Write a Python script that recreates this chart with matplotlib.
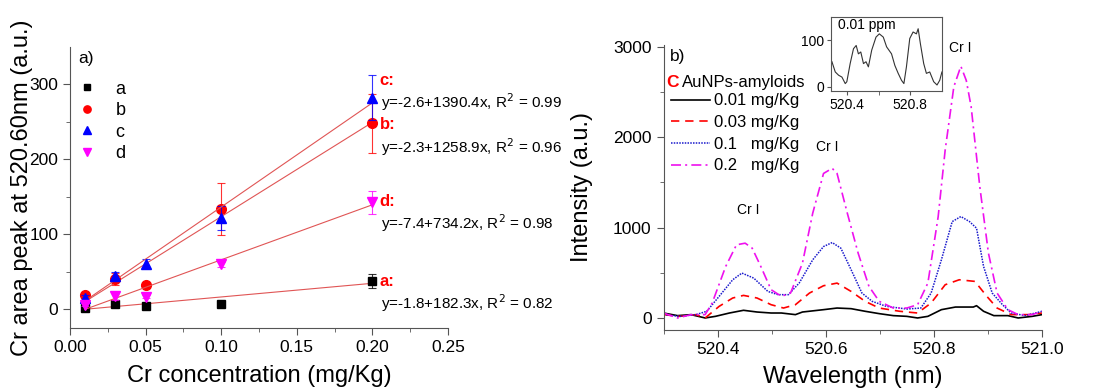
import numpy as np
import matplotlib
matplotlib.use("Agg")
import matplotlib.pyplot as plt
from matplotlib.lines import Line2D

plt.rcParams['font.family'] = ['Liberation Sans', 'DejaVu Sans']

# ---- panel a: calibration data ----
conc = [0.01, 0.03, 0.05, 0.10, 0.20]
area_a = [1.5, 7.5, 4.5, 6.7, 38]
err_a = [1, 2, 1, 1, 9]
area_b = [18.7, 40, 32, 134, 248]
err_b = [3, 8, 3, 35, 39]
area_c = [15.5, 45, 61, 122, 282]
err_c = [3, 5, 6, 16, 30]
area_d = [6, 18, 16.5, 60, 142.7]
err_d = [2, 5, 2, 3, 15]

# fit coefficients (intercept, slope, R^2)
fit_a = (-1.8, 182.3, 0.82)
fit_b = (-2.3, 1258.9, 0.96)
fit_c = (-2.6, 1390.4, 0.99)
fit_d = (-7.4, 734.2, 0.98)

# ---- panel b: spectra ----
wl_01 = [520.300, 520.326, 520.351, 520.377, 520.396, 520.422, 520.448, 520.473, 520.499,
         520.518, 520.544, 520.557, 520.596, 520.621, 520.647, 520.673, 520.699, 520.725,
         520.750, 520.770, 520.789, 520.814, 520.840, 520.873, 520.879, 520.892, 520.911,
         520.937, 520.956, 520.982, 521.000]
int_01 = [55, 26, 37, 0, 18, 55, 85, 66, 55, 55, 37, 66, 92, 110, 103, 74, 48, 26,
          18, 0, 18, 92, 121, 121, 136, 74, 26, 26, 0, 18, 37]

wl_03 = [520.300, 520.330, 520.360, 520.377, 520.403, 520.428, 520.448, 520.473, 520.499,
         520.522, 520.544, 520.570, 520.596, 520.621, 520.647, 520.673, 520.699, 520.737,
         520.770, 520.795, 520.821, 520.847, 520.876, 520.898, 520.917, 520.943, 520.976,
         521.000]
int_03 = [37, 18, 37, 0, 129, 221, 250, 221, 147, 110, 147, 276, 357, 386, 294, 184,
          110, 74, 55, 166, 368, 423, 405, 240, 110, 37, 37, 55]

wl_1 = [520.300, 520.330, 520.360, 520.380, 520.403, 520.428, 520.445, 520.467, 520.493,
        520.512, 520.531, 520.551, 520.576, 520.596, 520.612, 520.628, 520.647, 520.667,
        520.686, 520.712, 520.750, 520.776, 520.795, 520.814, 520.834, 520.850, 520.866,
        520.879, 520.892, 520.908, 520.927, 520.943, 520.969, 521.000]
int_1 = [37, 18, 37, 74, 240, 423, 497, 441, 294, 258, 258, 387, 644, 791, 835, 773,
         534, 276, 184, 129, 99, 110, 276, 644, 1067, 1123, 1067, 994, 570, 276, 147,
         55, 26, 74]

wl_2 = [520.300, 520.326, 520.351, 520.377, 520.390, 520.415, 520.435, 520.451, 520.464,
        520.480, 520.499, 520.518, 520.535, 520.557, 520.576, 520.596, 520.612, 520.621,
        520.640, 520.660, 520.680, 520.699, 520.725, 520.750, 520.770, 520.789, 520.808,
        520.821, 520.837, 520.850, 520.860, 520.869, 520.885, 520.901, 520.917, 520.937,
        520.956, 520.982, 521.000]
int_2 = [55, 0, 37, 37, 165, 570, 810, 828, 773, 570, 313, 240, 276, 607, 1160, 1600,
         1657, 1600, 1160, 718, 350, 184, 110, 110, 147, 387, 1120, 1860, 2560, 2787,
         2630, 2340, 1455, 718, 276, 92, 37, 37, 74]

# inset: 0.01 ppm trace
wl_in = [520.306, 520.327, 520.348, 520.369, 520.390, 520.400, 520.421, 520.442, 520.459,
         520.473, 520.488, 520.505, 520.521, 520.536, 520.557, 520.584, 520.605, 520.630,
         520.651, 520.682, 520.703, 520.724, 520.745, 520.760, 520.776, 520.797, 520.818,
         520.839, 520.850, 520.864, 520.885, 520.902, 520.923, 520.948, 520.969, 520.986,
         521.000]
int_in = [54, 32, 25, 21, 7, 11, 50, 82, 89, 71, 75, 50, 54, 43, 79, 107, 114, 107, 86,
          71, 46, 29, 14, 7, 43, 104, 118, 114, 125, 93, 50, 29, 32, 11, 4, 14, 32]

spine_col = '#555555'


def style_axes(ax, box=False):
    for s in ['left', 'bottom', 'top', 'right']:
        ax.spines[s].set_color(spine_col)
    if not box:
        ax.spines['top'].set_visible(False)
        ax.spines['right'].set_visible(False)
    ax.tick_params(which='both', direction='out', color=spine_col)
    ax.tick_params(which='major', length=5)
    ax.tick_params(which='minor', length=3)


fig = plt.figure(figsize=(11.04, 3.89), dpi=100)

# ---------------- panel a ----------------
axa = fig.add_axes([0.0634, 0.1568, 0.3424, 0.7224])
style_axes(axa)
series = [
    (area_a, err_a, fit_a, 'k', 's', 6, 'a'),
    (area_b, err_b, fit_b, 'red', 'o', 7, 'b'),
    (area_c, err_c, fit_c, 'blue', '^', 7.5, 'c'),
    (area_d, err_d, fit_d, 'magenta', 'v', 7.5, 'd'),
]
xfit = np.array([conc[0], conc[-1]])
for vals, errs, fit, col, mk, ms, lab in series:
    axa.errorbar(conc, vals, yerr=errs, fmt='none', ecolor=col, elinewidth=0.8,
                 capsize=3, capthick=0.8, alpha=0.8)
    axa.plot(xfit, fit[0] + fit[1] * xfit, color='#e05555', lw=0.8)
    axa.plot(conc, vals, ls='none', marker=mk, ms=ms, color=col, label=lab)

label_y = {'c': (305, 277), 'b': (247, 217), 'd': (144, 115), 'a': (37, 8)}
for vals, errs, fit, col, mk, ms, lab in series:
    yl, ye = label_y[lab]
    axa.text(0.2047, yl, lab + ':', color='red', fontweight='bold', fontsize=12,
             va='center')
    axa.text(0.2057, ye, 'y=%.1f+%.1fx, R$^2$ = %.2f' % fit, fontsize=11, va='center')

axa.set_xlim(0, 0.25)
axa.set_ylim(-25, 350)
axa.set_xticks(np.arange(0, 0.251, 0.05))
axa.set_xticks(np.arange(0.025, 0.25, 0.05), minor=True)
axa.set_xticklabels(['0.00', '0.05', '0.10', '0.15', '0.20', '0.25'])
axa.set_yticks([0, 100, 200, 300])
axa.set_yticks([50, 150, 250], minor=True)
axa.tick_params(labelsize=12.5)
axa.set_xlabel('Cr concentration (mg/Kg)', fontsize=17)
axa.set_ylabel('Cr area peak at 520.60nm (a.u.)', fontsize=17)
axa.xaxis.set_label_coords(0.5, -0.13)
axa.yaxis.set_label_coords(-0.098, 0.5)
axa.text(0.021, 0.96, 'a)', transform=axa.transAxes, fontsize=12.5, va='center')
axa.legend(loc='upper left', bbox_to_anchor=(0.02, 0.88), frameon=False,
           fontsize=13, handlelength=1.0, handletextpad=1.1, borderpad=0,
           labelspacing=0.25, borderaxespad=0, markerscale=0.75)

# ---------------- panel b ----------------
axb = fig.add_axes([0.601, 0.1517, 0.3428, 0.7326])
style_axes(axb)
axb.plot(wl_01, int_01, color='k', lw=1.2, ls='-')
axb.plot(wl_03, int_03, color='red', lw=1.2, ls=(0, (5, 3.5)))
axb.plot(wl_1, int_1, color='#1a1acc', lw=1.1, ls=(0, (1, 0.8)))
axb.plot(wl_2, int_2, color='#ee11ee', lw=1.2, ls=(0, (6, 2.5, 1.2, 2.5)))
axb.set_xlim(520.3, 521.0)
axb.set_ylim(-133, 3022)
axb.set_xticks([520.4, 520.6, 520.8, 521.0])
axb.set_xticks([520.3, 520.5, 520.7, 520.9], minor=True)
axb.set_yticks([0, 1000, 2000, 3000])
axb.set_yticks([500, 1500, 2500], minor=True)
axb.tick_params(labelsize=12.5)
axb.set_xlabel('Wavelength (nm)', fontsize=17)
axb.set_ylabel('Intensity (a.u.)', fontsize=17)
axb.xaxis.set_label_coords(0.5, -0.125)
axb.yaxis.set_label_coords(-0.186, 0.5)
axb.text(0.018, 0.958, 'b)', transform=axb.transAxes, fontsize=12.5, va='center')
axb.text(0.007, 0.87, 'C', transform=axb.transAxes, fontsize=12.5, color='red',
         fontweight='bold', va='center')
axb.text(0.05, 0.87, 'AuNPs-amyloids', transform=axb.transAxes, fontsize=12,
         va='center')
for xp, yp in [(520.456, 1195), (520.602, 1893), (520.848, 2990)]:
    axb.text(xp, yp, 'Cr I', fontsize=10, ha='center', va='center')

handles = [
    Line2D([], [], color='k', lw=1.2, ls='-'),
    Line2D([], [], color='red', lw=1.2, ls=(0, (5, 3.5))),
    Line2D([], [], color='#1a1acc', lw=1.1, ls=(0, (1, 0.8))),
    Line2D([], [], color='#ee11ee', lw=1.2, ls=(0, (6, 2.5, 1.2, 2.5))),
]
labels = ['0.01 mg/Kg', '0.03 mg/Kg', '0.1   mg/Kg', '0.2   mg/Kg']
axb.legend(handles, labels, loc='upper left', bbox_to_anchor=(0.02, 0.83),
           frameon=False, fontsize=12, handlelength=2.35, handletextpad=0.25,
           borderpad=0, labelspacing=0.4, borderaxespad=0)

# ---------------- inset ----------------
axi = fig.add_axes([0.7527, 0.766, 0.1005, 0.190])
style_axes(axi, box=True)
axi.plot(wl_in, int_in, color='#333333', lw=0.8)
axi.set_xlim(520.3, 521.0)
axi.set_ylim(-9, 150)
axi.set_xticks([520.4, 520.8])
axi.set_xticks([520.6], minor=True)
axi.set_yticks([0, 100])
axi.tick_params(labelsize=10, length=3, pad=2)
axi.text(0.06, 0.9, '0.01 ppm', transform=axi.transAxes, fontsize=10, va='center')

fig.savefig('out.png', dpi=100)
